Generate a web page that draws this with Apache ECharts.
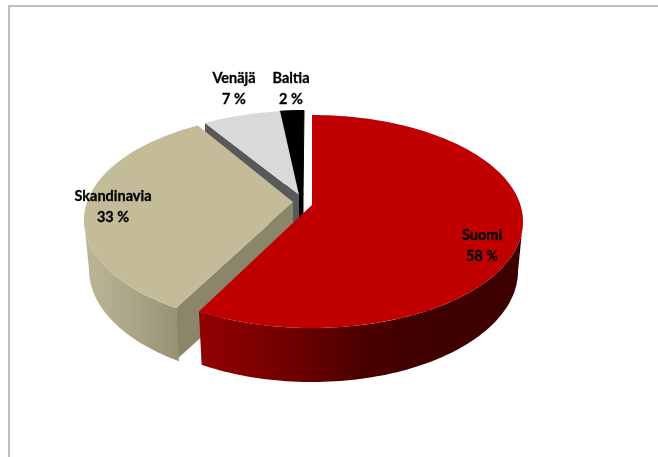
<!DOCTYPE html>
<html><head><meta charset="utf-8">
<style>html,body{margin:0;padding:0;background:#fff}#c{width:658px;height:457px}</style>
<script src="https://cdn.jsdelivr.net/npm/echarts@6/dist/echarts.min.js"></script>
</head><body><div id="c"></div>
<script>
// Data
var categories = ['Suomi', 'Skandinavia', 'Venäjä', 'Baltia'];
var shares = [58, 33, 7, 2];

// Drawing constants of the tilted, exploded pie (per slice, same order as the data)
var centerX = [312, 295, 304, 304];
var centerY = [221.5, 220, 217, 217];
var apexDX = [0, -2, -5, -1];
var apexDY = [-16.5, -18, -22, -22];
var startShift = [0, 5.5, 4.4, 0.7];   // degrees added to each slice's start (perspective)
var endShift = [3.6, 5, 0.7, 0];       // degrees added to each slice's end (perspective)
var radiusX = 211, radiusY = 106.5, baseRadiusX = 206, baseRadiusY = 111, baseDrop = 49.5, wallDepth = 52;
var topColor = ['#c00000', '#c4bc98', '#d9d9d9', '#000000'];
var wallColor = ['#3f0000', '#8b8669', '#595959', '#000000'];
var seamStroke = [0, 0, 0, 1];   // hides the anti-aliased seam on the black slice
var labelX = [482, 113, 234, 291];
var labelY = [235, 196, 78, 78];
var drawOrder = [3, 2, 1, 0];

function sliceAngles() {
  var total = shares.reduce(function (a, b) { return a + b; }, 0), acc = 0;
  return shares.map(function (v, i) {
    var from = acc / total * 360 + startShift[i];
    acc += v;
    return [from, acc / total * 360 + endShift[i]];
  });
}
var angles = sliceAngles();

function arc(cx, cy, rx, ry, a0, a1) {
  var pts = [], n = Math.max(2, Math.ceil((a1 - a0) / 1.5));
  for (var k = 0; k <= n; k++) {
    var t = (a0 + (a1 - a0) * k / n) * Math.PI / 180;
    pts.push([cx + rx * Math.sin(t), cy - ry * Math.cos(t)]);
  }
  return pts;
}
function hGrad(stops) {
  return { type: 'linear', x: 0, y: 0, x2: 1, y2: 0, colorStops: stops };
}
var sideFill = [
  hGrad([{ offset: 0, color: '#930000' }, { offset: 0.28, color: '#700000' }, { offset: 0.5, color: '#4c0000' }, { offset: 0.65, color: '#400000' }, { offset: 1, color: '#3d0000' }]),
  hGrad([{ offset: 0, color: '#bcb697' }, { offset: 0.5, color: '#aca688' }, { offset: 1, color: '#989274' }]),
  '#595959', '#000000'
];

function sliceChildren(i) {
  var cx = centerX[i], cy = centerY[i], a0 = angles[i][0], a1 = angles[i][1];
  var apex = [cx + apexDX[i], cy + apexDY[i]];
  var top = arc(cx, cy, radiusX, radiusY, a0, a1);
  var kids = [];
  var first = top[0], firstBase = [first[0], first[1] + wallDepth];
  var seam = seamStroke[i];
  if (i > 0) {
    kids.push({ type: 'polygon', shape: { points: [first, firstBase, [apex[0], apex[1] + wallDepth], apex] },
      style: { fill: wallColor[i], stroke: seam ? wallColor[i] : null, lineWidth: seam } });
  }
  // outer rim: only the part of the arc that faces the viewer (90°..270°)
  var v0 = Math.max(a0, 90), v1 = Math.min(a1, 270);
  if (v1 > v0) {
    var rimTop = arc(cx, cy, radiusX, radiusY, v0, v1);
    var rimBase = arc(cx, cy + baseDrop, baseRadiusX, baseRadiusY, v0, v1);
    kids.push({ type: 'polygon', shape: { points: rimTop.concat(rimBase.reverse()) }, style: { fill: sideFill[i] } });
  }
  kids.push({ type: 'polygon', shape: { points: [apex].concat(top) },
    style: { fill: topColor[i], stroke: seam ? topColor[i] : null, lineWidth: seam } });
  return kids;
}

function labelChildren(i) {
  var font = 'bold 14.5px Lato, "Open Sans", sans-serif';
  function label(text, y) {
    return { type: 'text', style: { text: text, x: labelX[i], y: y, fill: '#000', stroke: '#000', lineWidth: 0.3, font: font, textAlign: 'center', textVerticalAlign: 'middle' } };
  }
  return [label(categories[i], labelY[i]), label(shares[i] + ' %', labelY[i] + 21)];
}

var chart = echarts.init(document.getElementById('c'), null, { renderer: 'canvas' });
chart.setOption({
  animation: false,
  backgroundColor: '#ffffff',
  graphic: [{
    type: 'polyline', silent: true,
    shape: { points: [[9, 457], [9, 6], [658, 6]] },
    style: { stroke: '#bfbfbf', lineWidth: 2, fill: null }
  }],
  series: [{
    type: 'custom',
    coordinateSystem: 'none',
    silent: true,
    data: drawOrder.map(function (i) { return { name: categories[i], value: [i, shares[i]] }; }),
    renderItem: function (params, api) {
      return { type: 'group', children: sliceChildren(api.value(0)) };
    }
  }, {
    type: 'custom',
    coordinateSystem: 'none',
    silent: true,
    z: 5,
    data: categories.map(function (n, i) { return { name: n, value: [i, shares[i]] }; }),
    renderItem: function (params, api) {
      return { type: 'group', children: labelChildren(api.value(0)) };
    }
  }]
});
</script></body></html>
